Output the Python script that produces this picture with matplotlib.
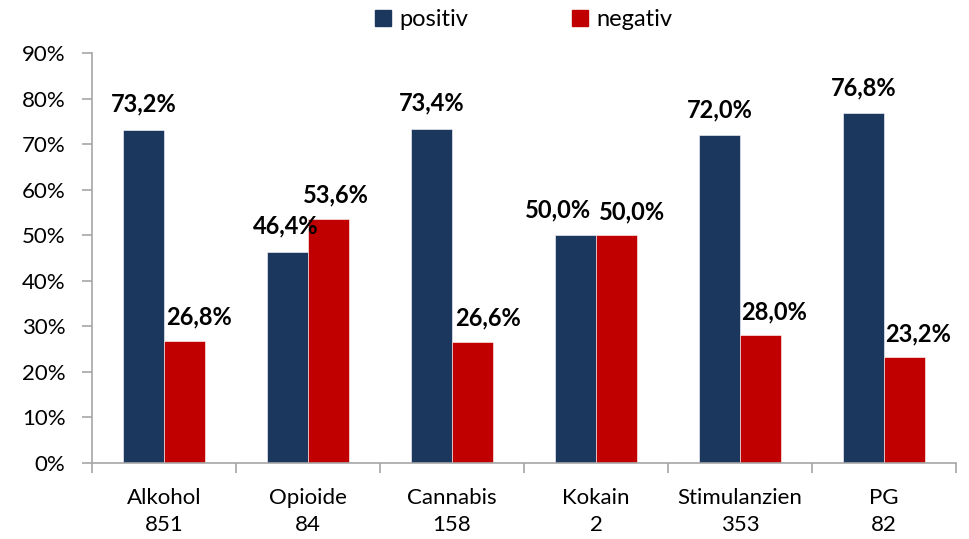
import numpy as np
import matplotlib
matplotlib.use('Agg')
import matplotlib.pyplot as plt
from matplotlib.lines import Line2D

plt.rcParams['font.family'] = ['Lato', 'DejaVu Sans']

# ---- data ----
categories = ['Alkohol', 'Opioide', 'Cannabis', 'Kokain', 'Stimulanzien', 'PG']
counts = ['851', '84', '158', '2', '353', '82']
positiv = [73.2, 46.4, 73.4, 50.0, 72.0, 76.8]
negativ = [26.8, 53.6, 26.6, 50.0, 28.0, 23.2]
yticks = [0, 10, 20, 30, 40, 50, 60, 70, 80, 90]

NAVY = '#1B375E'
RED = '#C00000'
GRAY = '#A6A6A6'

# label x nudges (pixels), mimics the source's label placement
pos_dx = [0, -2, 0, -17, 0, 0]
neg_dx = [14, 7, 15, 15, 14, 14]

fig = plt.figure(figsize=(9.69, 5.39), dpi=100)
ax = fig.add_axes([92 / 969, 1 - 463 / 539, (956 - 92) / 969, (463 - 53) / 539])

x = np.arange(len(categories))
w = 0.285
ax.bar(x - w / 2, positiv, w, color=NAVY, edgecolor='white', linewidth=0.4)
ax.bar(x + w / 2, negativ, w, color=RED, edgecolor='white', linewidth=0.4)

fmt = lambda v: f'{v:.1f}%'.replace('.', ',')
for i in range(len(categories)):
    ax.annotate(fmt(positiv[i]), (x[i] - w / 2, positiv[i]), xytext=(pos_dx[i], 14),
                textcoords='offset pixels', ha='center', va='bottom',
                fontsize=17, fontweight='bold')
    ax.annotate(fmt(negativ[i]), (x[i] + w / 2, negativ[i]), xytext=(neg_dx[i], 12),
                textcoords='offset pixels', ha='center', va='bottom',
                fontsize=17, fontweight='bold')

ax.set_xlim(-0.5, len(categories) - 0.5)
ax.set_ylim(0, 90)
ax.set_yticks(yticks)
ax.set_yticklabels([f'{t}%' for t in yticks], fontsize=16)
ax.set_xticks(np.arange(len(categories) + 1) - 0.5)
ax.set_xticklabels([])
ax.set_xticks(x, minor=True)
ax.set_xticklabels([f'{c}\n{n}' for c, n in zip(categories, counts)], minor=True,
                   fontsize=16, linespacing=1.45)
ax.tick_params(axis='x', which='minor', length=0, pad=18)
ax.tick_params(axis='x', which='major', length=7, color=GRAY, width=1.2)
ax.tick_params(axis='y', length=7, color=GRAY, width=1.2, pad=12)

for s in ['top', 'right']:
    ax.spines[s].set_visible(False)
for s in ['left', 'bottom']:
    ax.spines[s].set_color(GRAY)
    ax.spines[s].set_linewidth(1.2)

handles = [Line2D([], [], marker='s', ls='', color=NAVY, markersize=11),
           Line2D([], [], marker='s', ls='', color=RED, markersize=11)]
fig.legend(handles, ['positiv', 'negativ'], loc='center', bbox_to_anchor=(522 / 969, 1 - 20 / 539),
           ncol=2, frameon=False, fontsize=17, handletextpad=0.2, columnspacing=4.2, handlelength=1)

fig.savefig('out.png', dpi=100)
